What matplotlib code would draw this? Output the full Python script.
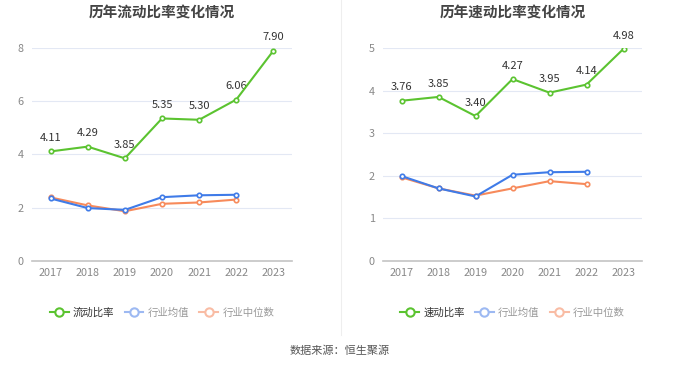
import matplotlib.pyplot as plt
from matplotlib.lines import Line2D

plt.rcParams['font.family'] = ['Noto Sans CJK SC', 'DejaVu Sans']

years = ['2017', '2018', '2019', '2020', '2021', '2022', '2023']

# 流动比率
current_ratio = [4.11, 4.29, 3.85, 5.35, 5.30, 6.06, 7.90]
current_ind_mean = [2.34, 1.98, 1.91, 2.39, 2.46, 2.48]
current_ind_median = [2.38, 2.08, 1.86, 2.14, 2.19, 2.30]

# 速动比率
quick_ratio = [3.76, 3.85, 3.40, 4.27, 3.95, 4.14, 4.98]
quick_ind_mean = [1.99, 1.70, 1.51, 2.02, 2.08, 2.09]
quick_ind_median = [1.96, 1.70, 1.53, 1.70, 1.87, 1.80]

green = '#5bc330'
blue = '#3f7be8'
orange = '#f78a5b'

W, H = 680, 367
fig = plt.figure(figsize=(6.8, 3.67), dpi=100)


def panel(x0, x1, ymax, yticks, main, mean, median, title, name):
    ax = fig.add_axes([x0 / W, (H - 260.7) / H, (x1 - x0) / W, (260.7 - 48) / H])
    x = range(len(years))
    xi = range(len(mean))
    ax.plot(xi, median, color=orange, lw=1.5, marker='o', ms=3.2, mfc='white', mew=1.2, zorder=3)
    ax.plot(xi, mean, color=blue, lw=1.5, marker='o', ms=3.2, mfc='white', mew=1.2, zorder=3)
    ax.plot(x, main, color=green, lw=1.5, marker='o', ms=3.2, mfc='white', mew=1.2, zorder=4)
    for i, v in enumerate(main):
        ax.annotate(f'{v:.2f}', (i, v), xytext=(0, 6), textcoords='offset points',
                    ha='center', va='bottom', fontsize=8, color='#333333')
    ax.set_xlim(-0.5, len(years) - 0.5)
    ax.set_ylim(0, ymax)
    ax.set_xticks(list(x))
    ax.set_xticklabels(years)
    ax.set_yticks(yticks)
    ax.tick_params(length=0, labelsize=7.8, colors='#888888', pad=5)
    ax.tick_params(axis='y', pad=6)
    ax.grid(axis='y', color='#e3e8f4', lw=0.8)
    ax.set_axisbelow(True)
    for s in ['top', 'right', 'left']:
        ax.spines[s].set_visible(False)
    ax.spines['bottom'].set_color('#c4c4c4')
    ax.spines['bottom'].set_linewidth(1.2)

    cx = (x0 + x1) / 2 / W
    fig.text(cx, 1 - 12 / H, title, ha='center', va='center', fontsize=10.5,
             fontweight='bold', color='#444444')
    handles = [
        Line2D([], [], color=green, lw=1.5, marker='o', ms=6, mfc='white', mew=1.5),
        Line2D([], [], color='#9db9f2', lw=1.5, marker='o', ms=6, mfc='white', mew=1.5),
        Line2D([], [], color='#f9bca4', lw=1.5, marker='o', ms=6, mfc='white', mew=1.5),
    ]
    leg = fig.legend(handles, [name, '行业均值', '行业中位数'], loc='center',
                     bbox_to_anchor=(cx, 1 - 313 / H), ncol=3, frameon=False,
                     fontsize=7.5, handlelength=1.8, handletextpad=0.4, columnspacing=1.0)
    for t, c in zip(leg.get_texts(), ['#333333', '#999999', '#999999']):
        t.set_color(c)


panel(32, 292, 8, [0, 2, 4, 6, 8], current_ratio, current_ind_mean, current_ind_median,
      '历年流动比率变化情况', '流动比率')
panel(383, 642, 5, [0, 1, 2, 3, 4, 5], quick_ratio, quick_ind_mean, quick_ind_median,
      '历年速动比率变化情况', '速动比率')

fig.add_artist(Line2D([341 / W, 341 / W], [1 - 335 / H, 1], color='#eeeeee', lw=0.8))
fig.text(0.5, 1 - 351 / H, '数据来源：恒生聚源', ha='center', va='center', fontsize=8, color='#555555')

fig.savefig('out.png', dpi=100)
